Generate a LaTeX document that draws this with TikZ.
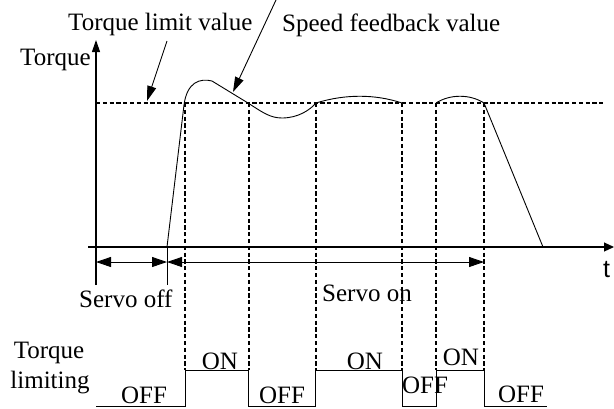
\documentclass[tikz,border=0pt]{standalone}
\usepackage{fontspec}
\setmainfont{Liberation Serif}
\newfontfamily\sansf{Liberation Sans}
\usetikzlibrary{arrows.meta}
\begin{document}
\begin{tikzpicture}[x=1pt,y=-1pt,
  lbl/.style={font=\fontsize{25}{28}\selectfont,inner sep=0pt,anchor=base},
  lblw/.style={lbl,anchor=base west},
  thin line/.style={line width=0.9pt},
  dash line/.style={line width=1.4pt,dash pattern=on 4.2pt off 2.6pt},
  ann tip/.style={-{Triangle[length=15pt,width=9pt]}}]
\useasboundingbox (0,0) rectangle (614,408);
% axes
\coordinate (yb) at (96,285);
\coordinate (yt) at (96,40);
\coordinate (xl) at (88,247);
\coordinate (xr) at (614,247);
\draw[line width=1.1pt,-{Triangle[length=12pt,width=8pt]}] (yb) -- (yt);
\draw[line width=1.1pt,-{Triangle[length=10pt,width=9pt]}] (xl) -- (xr);
% torque limit
\coordinate (tl1) at (96,103);
\coordinate (tl2) at (603,103);
\draw[dash line] (tl1) -- (tl2);
% vertical dashed lines
\foreach \n/\x in {a/185,b/249,c/316,d/402,e/436,f/484}{
  \coordinate (v\n t) at (\x,103);
  \coordinate (v\n b) at (\x,370);
  \draw[dash line] (v\n t) -- (v\n b);
}
% torque curve
\coordinate (c0) at (167,247);
\draw[thin line] (c0) -- (184,105) .. controls (187,82) and (200,78) .. (212,81)
  -- (248,103) .. controls (262,112) and (270,118) .. (282,118)
  .. controls (298,118) and (310,110) .. (316,103)
  .. controls (345,94) and (375,94) .. (402,103)
  (436,103) .. controls (450,94) and (470,94) .. (484,103) -- (543,247);
% servo tick
\coordinate (tk1) at (167,247);
\coordinate (tk2) at (167,285);
\draw[thin line] (tk1) -- (tk2);
% servo arrows
\coordinate (so1) at (96,262);
\coordinate (so2) at (167,262);
\coordinate (sn1) at (167,262);
\coordinate (sn2) at (484,262);
\draw[thin line,{Triangle[length=15pt,width=10pt]}-{Triangle[length=15pt,width=10pt]}] (so1) -- (so2);
\draw[thin line,{Triangle[length=15pt,width=10pt]}-{Triangle[length=15pt,width=10pt]}] (sn1) -- (sn2);
% annotation arrows
\coordinate (a1s) at (167,41);
\coordinate (a1e) at (147,101);
\coordinate (a2s) at (276,0);
\coordinate (a2e) at (233,92);
\draw[thin line,ann tip] (a1s) -- (a1e);
\draw[thin line,ann tip] (a2s) -- (a2e);
% torque limiting signal
\coordinate (s0) at (96,406);
\draw[thin line] (s0) -- (185,406) -- (185,370) -- (248,370) -- (248,406) -- (315,406)
  -- (315,370) -- (402,370) -- (402,406) -- (436,406) -- (436,370) -- (484,370)
  -- (484,406) -- (547,406);
% labels
\node[lblw] (ltl) at (68,30) {Torque limit value};
\node[lblw] (lsf) at (282,31) {Speed feedback value};
\node[lblw] (ltq) at (20,65) {Torque};
\node[lblw,font=\sansf\fontsize{25}{28}\selectfont] (lt) at (603,277) {t};
\node[lblw] (lsoff) at (79,307) {Servo off};
\node[lblw] (lson) at (322,301) {Servo on};
\node[lbl] (ltq2) at (49,358) {Torque};
\node[lbl] (llim) at (50,388) {limiting};
\node[lbl] (off1) at (144,403) {OFF};
\node[lbl] (on1) at (220,369) {ON};
\node[lbl] (off2) at (282,403) {OFF};
\node[lbl] (on2) at (365,369) {ON};
\node[lbl] (off3) at (425,393) {OFF};
\node[lbl] (on3) at (461,365) {ON};
\node[lbl] (off4) at (521,402) {OFF};
\end{tikzpicture}
\end{document}
